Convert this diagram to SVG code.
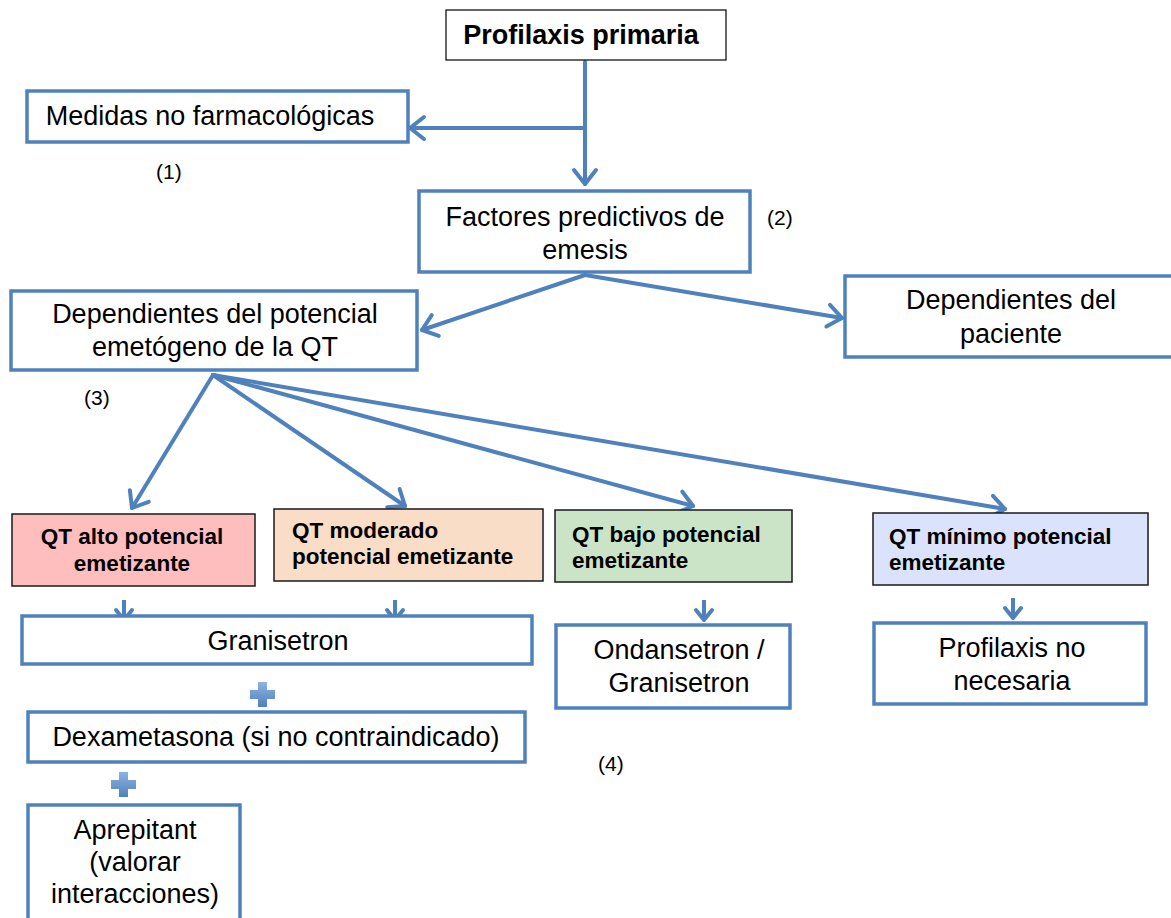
<svg xmlns="http://www.w3.org/2000/svg" width="1171" height="918" viewBox="0 0 1171 918">
<style>
.bx{fill:#fff;stroke:#4F81BD;stroke-width:3.5}
.qt{stroke:#1a1a1a;stroke-width:1.5}
.t{font-family:"Liberation Sans",Arial,sans-serif;font-size:27px;fill:#000;text-anchor:middle}
.b{font-family:"Liberation Sans",Arial,sans-serif;font-size:22.5px;font-weight:bold;fill:#000}
.n{font-family:"Liberation Sans",Arial,sans-serif;font-size:21px;fill:#000}
.c{fill:none;stroke:#4F81BD;stroke-width:4;stroke-linecap:round;marker-end:url(#ah)}
.s{fill:none;stroke:#4F81BD;stroke-width:4;marker-end:url(#ah2)}
</style>
<defs>
<marker id="ah" markerUnits="userSpaceOnUse" markerWidth="40" markerHeight="40" viewBox="-20 -20 40 40" refX="0" refY="0" orient="auto" overflow="visible">
<path d="M-14,-11 L0,0 L-14,11" fill="none" stroke="#4F81BD" stroke-width="4" stroke-linecap="round" stroke-linejoin="round"/>
</marker>
<marker id="ah2" markerUnits="userSpaceOnUse" markerWidth="40" markerHeight="40" viewBox="-20 -20 40 40" refX="0" refY="0" orient="auto" overflow="visible">
<path d="M-10,-8 L0,0 L-10,8" fill="none" stroke="#4F81BD" stroke-width="4" stroke-linecap="round" stroke-linejoin="round"/>
</marker>
<linearGradient id="pg" x1="0" y1="0" x2="0" y2="1">
<stop offset="0" stop-color="#8DB3E2"/>
<stop offset="1" stop-color="#4F81BD"/>
</linearGradient>
</defs>

<g id="connectors">
<path class="c" d="M585,62 L585,184"/>
<path class="c" d="M585,128 L410,128"/>
<path class="c" d="M585,275 L422,330"/>
<path class="c" d="M585,275 L842,318"/>
<path class="c" d="M213,375 L132,508"/>
<path class="c" d="M213,375 L405,506"/>
<path class="c" d="M213,375 L693,506"/>
<path class="c" d="M213,375 L1005,509"/>
<path class="s" d="M124,600 L124,620"/>
<path class="s" d="M395,600 L395,620"/>
<path class="s" d="M704,600 L704,620"/>
<path class="s" d="M1013,598 L1013,618"/>
</g>

<g id="n-profilaxis">
<rect x="446" y="10" width="280" height="50" fill="#fff" stroke="#000" stroke-width="1.2"/>
<text class="t" x="581" y="44" font-weight="bold" font-size="26">Profilaxis primaria</text>
</g>
<g id="n-medidas">
<rect class="bx" x="27" y="91" width="381" height="51"/>
<text class="t" x="210" y="125">Medidas no farmacológicas</text>
</g>
<text class="n" x="156" y="179">(1)</text>
<g id="n-factores">
<rect class="bx" x="419" y="191" width="331" height="81"/>
<text class="t" x="585" y="226">Factores predictivos de</text>
<text class="t" x="585" y="259">emesis</text>
</g>
<text class="n" x="767" y="225">(2)</text>
<g id="n-potencial">
<rect class="bx" x="11" y="291" width="406" height="79"/>
<text class="t" x="215" y="323">Dependientes del potencial</text>
<text class="t" x="215" y="356">emetógeno de la QT</text>
</g>
<g id="n-paciente">
<rect class="bx" x="845" y="276" width="330" height="81"/>
<text class="t" x="1011" y="309">Dependientes del</text>
<text class="t" x="1011" y="343">paciente</text>
</g>
<text class="n" x="84" y="405">(3)</text>

<g id="n-alto">
<rect class="qt" x="12" y="514" width="243" height="72" fill="#FFBEBE"/>
<text class="b" x="132" y="544" text-anchor="middle">QT alto potencial</text>
<text class="b" x="132" y="571" text-anchor="middle">emetizante</text>
</g>
<g id="n-moderado">
<rect class="qt" x="274" y="509" width="269" height="72" fill="#F9DDC6"/>
<text class="b" x="292" y="538">QT moderado</text>
<text class="b" x="292" y="564">potencial emetizante</text>
</g>
<g id="n-bajo">
<rect class="qt" x="555" y="510" width="237" height="72" fill="#CBE4C8"/>
<text class="b" x="572" y="542">QT bajo potencial</text>
<text class="b" x="572" y="568">emetizante</text>
</g>
<g id="n-minimo">
<rect class="qt" x="873" y="513" width="275" height="72" fill="#DAE3FB"/>
<text class="b" x="889" y="544">QT mínimo potencial</text>
<text class="b" x="889" y="570">emetizante</text>
</g>

<g id="n-granisetron">
<rect class="bx" x="22" y="616" width="510" height="48"/>
<text class="t" x="278" y="650">Granisetron</text>
</g>
<g id="n-ondansetron">
<rect class="bx" x="556" y="625" width="234" height="83"/>
<text class="t" x="679" y="659">Ondansetron /</text>
<text class="t" x="679" y="692">Granisetron</text>
</g>
<g id="n-noneces">
<rect class="bx" x="874" y="623" width="272" height="81"/>
<text class="t" x="1012" y="657">Profilaxis no</text>
<text class="t" x="1012" y="690">necesaria</text>
</g>

<g id="plus1">
<path d="M258,682 h9 v8 h8 v9 h-8 v8 h-9 v-8 h-8 v-9 h8 z" fill="url(#pg)"/>
</g>
<g id="n-dexa">
<rect class="bx" x="28" y="712" width="497" height="50"/>
<text class="t" x="276" y="746">Dexametasona (si no contraindicado)</text>
</g>
<text class="n" x="598" y="771">(4)</text>
<g id="plus2">
<path d="M119,772 h9 v8 h8 v9 h-8 v8 h-9 v-8 h-8 v-9 h8 z" fill="url(#pg)"/>
</g>
<g id="n-aprepitant">
<rect class="bx" x="28" y="805" width="212" height="120"/>
<text class="t" x="135" y="839">Aprepitant</text>
<text class="t" x="135" y="871">(valorar</text>
<text class="t" x="135" y="903">interacciones)</text>
</g>
</svg>
